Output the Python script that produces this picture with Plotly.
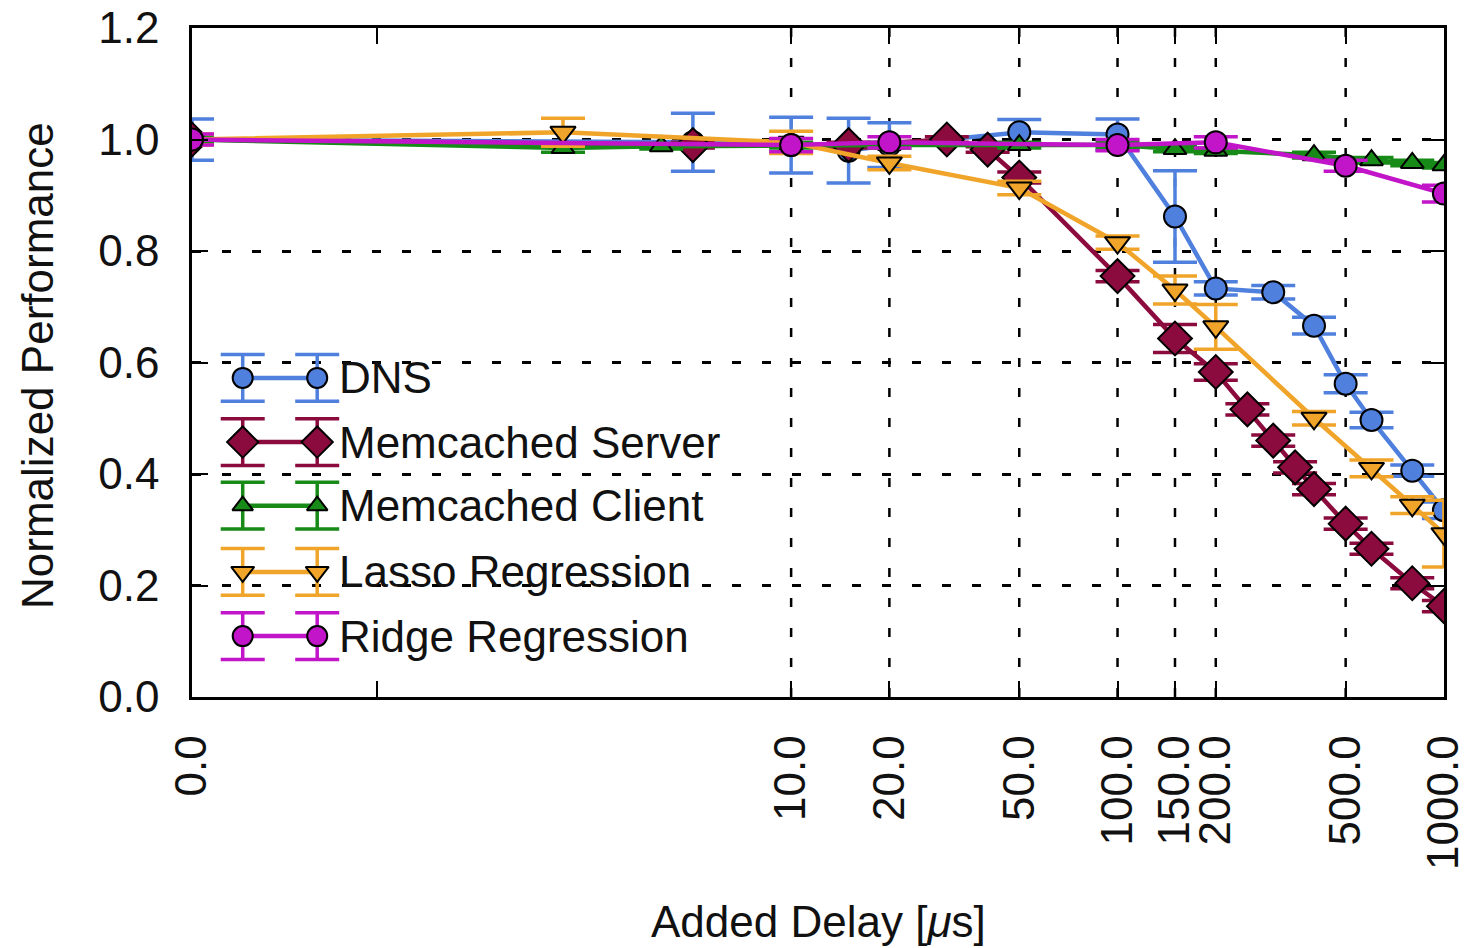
import plotly.graph_objects as go
import math

# ---------------- data ----------------
tick_vals = [0, 10, 20, 50, 100, 150, 200, 500, 1000]
tick_text = ["0.0", "10.0", "20.0", "50.0", "100.0", "150.0", "200.0", "500.0", "1000.0"]
grid_vals = [10, 20, 50, 100, 150, 200, 500]

dns_x = [0, 5, 10, 15, 20, 50, 100, 150, 200, 300, 400, 500, 600, 800, 1000]
dns_y = [1.0, 0.995, 0.99, 0.98, 0.99, 1.013, 1.009, 0.862, 0.733, 0.726, 0.666, 0.562, 0.497, 0.406, 0.335]
dns_err = [0.037, 0.052, 0.05, 0.058, 0.04, 0.023, 0.028, 0.082, 0.012, 0.012, 0.015, 0.016, 0.014, 0.01, 0.015]

srv_x = [0, 5, 15, 30, 40, 50, 100, 150, 200, 250, 300, 350, 400, 500, 600, 800, 1000]
srv_y = [1.0, 0.99, 0.99, 1.0, 0.982, 0.932, 0.755, 0.643, 0.583, 0.516, 0.46, 0.412, 0.373, 0.311, 0.266, 0.204, 0.163]
srv_err = [0.005, 0.005, 0.005, 0.005, 0.005, 0.01, 0.01, 0.025, 0.015, 0.01, 0.01, 0.01, 0.01, 0.01, 0.01, 0.01, 0.01]

cli_x = [0, 2, 4, 10, 20, 50, 100, 150, 200, 400, 600, 800, 1000]
cli_y = [1.0, 0.985, 0.988, 0.99, 0.99, 0.99, 0.99, 0.983, 0.98, 0.972, 0.963, 0.958, 0.954]
cli_err = [0.005, 0.008, 0.005, 0.005, 0.005, 0.005, 0.005, 0.005, 0.005, 0.005, 0.005, 0.005, 0.005]

las_x = [0, 2, 10, 20, 50, 100, 150, 200, 400, 600, 800, 1000]
las_y = [1.0, 1.013, 0.995, 0.958, 0.913, 0.815, 0.73, 0.664, 0.5, 0.41, 0.344, 0.293]
las_err = [0.01, 0.025, 0.02, 0.012, 0.012, 0.012, 0.025, 0.04, 0.012, 0.015, 0.015, 0.06]

rid_x = [0, 10, 20, 100, 200, 500, 1000]
rid_y = [1.0, 0.99, 0.995, 0.99, 0.995, 0.953, 0.903]
rid_err = [0.01, 0.012, 0.01, 0.01, 0.01, 0.01, 0.015]

names = ["DNS", "Memcached Server", "Memcached Client", "Lasso Regression", "Ridge Regression"]
colors = ["#4f80de", "#8c0b3e", "#178a17", "#f0a52a", "#c214c8"]
symbols = ["circle", "diamond", "triangle-up", "triangle-down", "circle"]
msizes = [22, 26, 20, 22, 22]

# ---------------- axis mapping (0 sits at the left end of the log axis) ----------------
X_ZERO = 0.146
X_MINOR = 0.537


def xmap(vals):
    return [X_ZERO if v == 0 else v for v in vals]


FONT = "Liberation Sans, Arial, Helvetica, sans-serif"
FS = 44

fig = go.Figure()

series = [
    (dns_x, dns_y, dns_err),
    (srv_x, srv_y, srv_err),
    (cli_x, cli_y, cli_err),
    (las_x, las_y, las_err),
    (rid_x, rid_y, rid_err),
]

for (xs, ys, es), name, col, sym, ms in zip(series, names, colors, symbols, msizes):
    fig.add_trace(go.Scatter(
        x=xmap(xs), y=ys, name=name, mode="lines+markers",
        line=dict(color=col, width=4.5),
        marker=dict(symbol=sym, size=ms, color=col, line=dict(color="black", width=2)),
        error_y=dict(type="data", array=es, visible=True, color=col, thickness=3.5, width=22),
        showlegend=False,
    ))

# ---------------- gnuplot-style key (drawn on an overlay axis) ----------------
key_rows = [0.477, 0.381, 0.286, 0.187, 0.091]
key_x = [0.0405, 0.100]
key_err = 0.035
for name, col, sym, ms, ry in zip(names, colors, symbols, msizes, key_rows):
    fig.add_trace(go.Scatter(
        x=key_x, y=[ry, ry], mode="lines+markers", xaxis="x2", yaxis="y2",
        line=dict(color=col, width=4.5),
        marker=dict(symbol=sym, size=ms - 2, color=col, line=dict(color="black", width=2)),
        error_y=dict(type="data", array=[key_err, key_err], visible=True, color=col, thickness=3.5, width=22),
        showlegend=False, hoverinfo="skip",
    ))
    fig.add_annotation(x=0.1160, y=ry, xref="x2", yref="y2", text=name, showarrow=False,
                       xanchor="left", yanchor="middle", font=dict(family=FONT, size=FS, color="#111"))

# vertical dotted grid lines
for g in grid_vals:
    fig.add_shape(type="line", x0=g, x1=g, y0=0, y1=1, xref="x", yref="paper",
                  line=dict(color="black", width=2.5, dash="9px,21px"), layer="below")

fig.update_layout(
    width=1466, height=948,
    margin=dict(l=192, r=22, t=28, b=251),
    paper_bgcolor="white", plot_bgcolor="white",
    font=dict(family=FONT, size=FS, color="#111"),
    showlegend=False,
    xaxis=dict(
        type="log", range=[math.log10(X_ZERO), 3.0003], automargin=False,
        tickmode="array", tickvals=xmap(tick_vals), ticktext=tick_text,
        tickangle=-90, ticks="inside", ticklen=16, tickwidth=2, tickcolor="black",
        showline=True, linecolor="black", linewidth=2.5, mirror="ticks",
        showgrid=False, zeroline=False, ticklabelstandoff=18, ticklabeloverflow="allow",
        minor=dict(tickmode="array", tickvals=[X_MINOR], ticks="inside", ticklen=16,
                   tickwidth=2, tickcolor="black", showgrid=False),
    ),
    yaxis=dict(
        range=[0, 1.2001], tickmode="linear", tick0=0, dtick=0.2, tickformat=".1f",
        automargin=False, ticklabeloverflow="allow",
        ticks="inside", ticklen=16, tickwidth=2, tickcolor="black",
        showline=True, linecolor="black", linewidth=2.5, mirror="ticks",
        showgrid=True, gridcolor="black", gridwidth=2.5, griddash="9px,21px",
        zeroline=False, ticklabelstandoff=21,
    ),
    xaxis2=dict(overlaying="x", range=[0, 1], visible=False, fixedrange=True),
    yaxis2=dict(overlaying="y", range=[0, 1], visible=False, fixedrange=True),
    annotations=list(fig.layout.annotations) + [
        dict(text="Normalized Performance", x=-0.124, y=0.496, xref="paper", yref="paper",
             showarrow=False, textangle=-90, xanchor="center", yanchor="middle",
             font=dict(family=FONT, size=FS, color="#111")),
        dict(text="Added Delay [<i>μ</i>s]", x=0.5, y=-0.336, xref="paper", yref="paper",
             showarrow=False, xanchor="center", yanchor="middle",
             font=dict(family=FONT, size=FS, color="#111")),
    ],
)

fig.write_html("out.html", config={"displayModeBar": False},
               post_script="document.body.style.margin='0';document.body.style.overflow='hidden';")
